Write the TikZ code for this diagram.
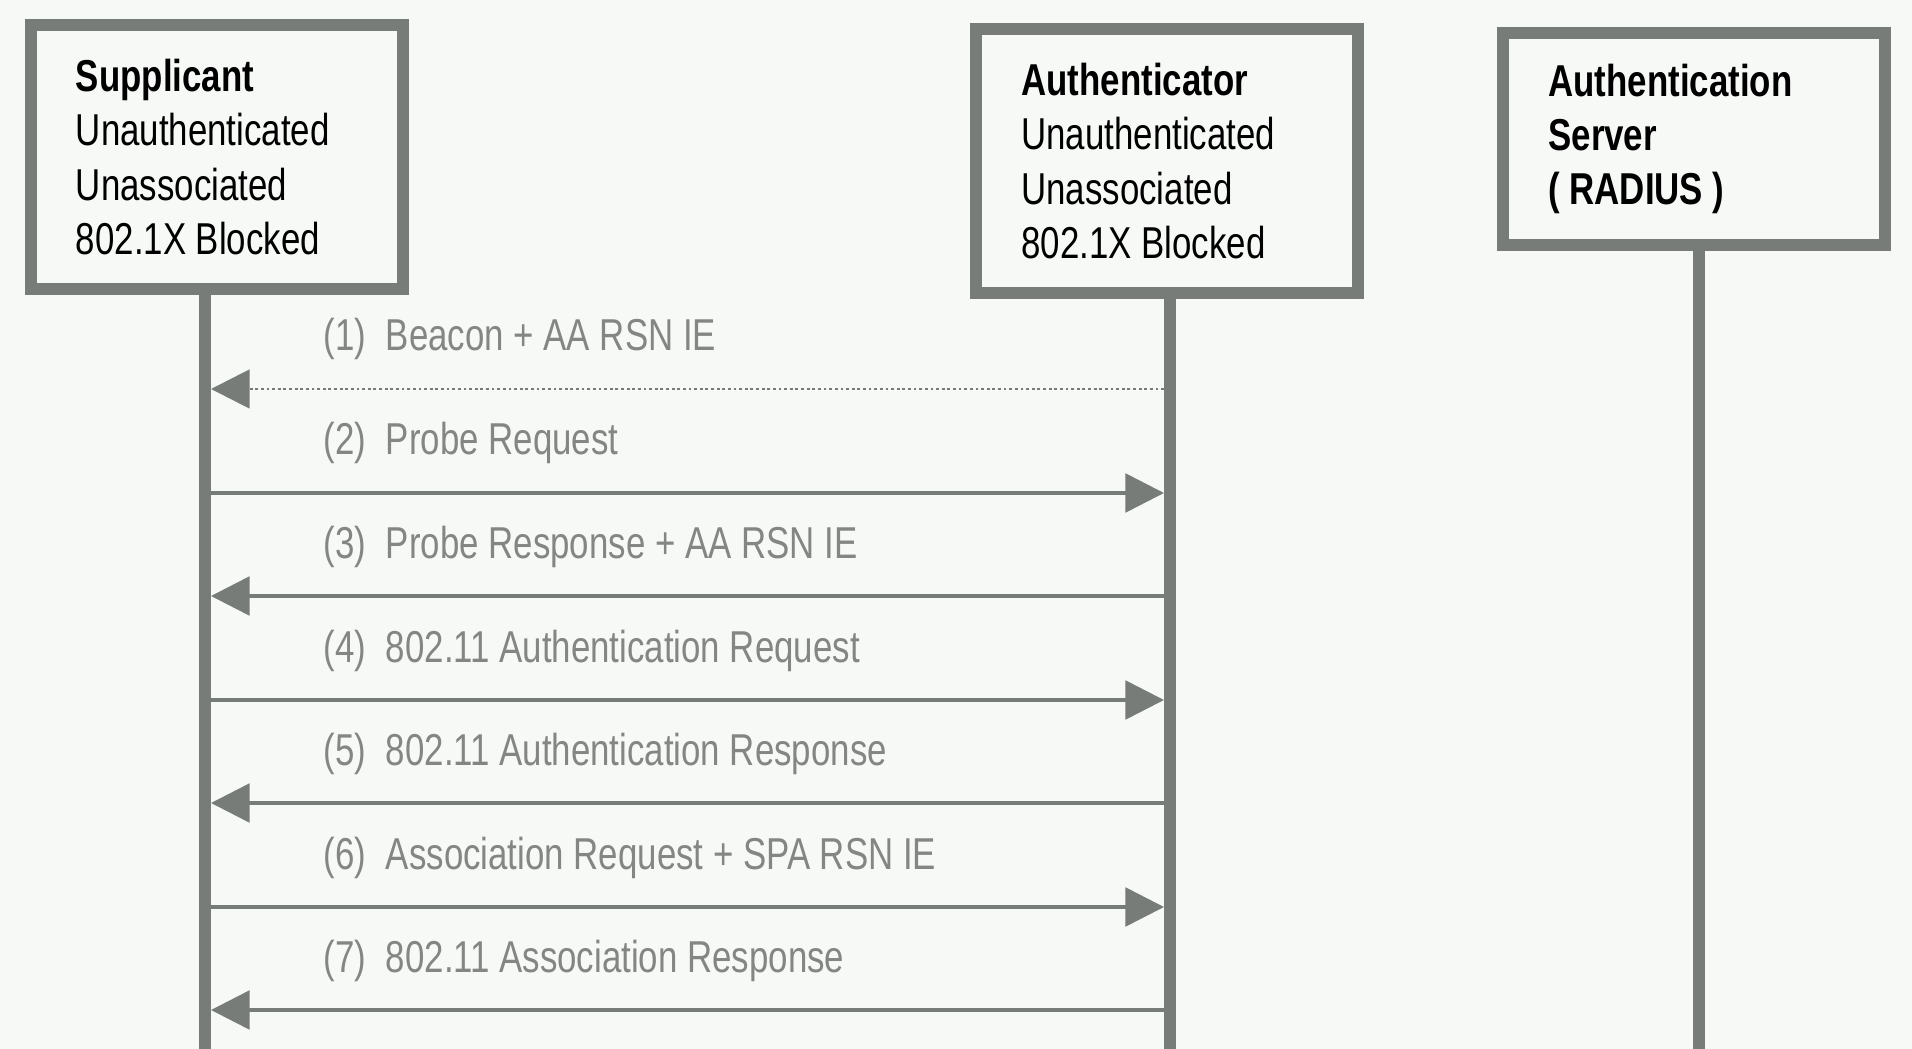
\documentclass[tikz,border=0pt]{standalone}
\usepackage{fontspec}
\setmainfont{Liberation Sans}[FakeStretch=0.78]
\usetikzlibrary{arrows.meta}

\definecolor{framegray}{RGB}{120,124,120}
\definecolor{labelgray}{RGB}{132,134,132}
\definecolor{paper}{RGB}{246,249,246}

\newcommand{\msgtxt}[2]{(#1)\hspace{5.6pt}#2}

\tikzset{
  actor/.style={draw=framegray, line width=3.4pt, fill=paper, align=flush left,
    inner xsep=0.45cm, inner ysep=0pt, text=black},
  life/.style={draw=framegray, line width=3.4pt},
  msg/.style={draw=framegray, line width=1pt, -{Triangle[length=11pt,width=11pt]},
    shorten >=1.7pt, shorten <=1.7pt},
  beacon/.style={msg, line width=0.8pt, dash pattern=on 0.8pt off 0.8pt},
  lbl/.style={anchor=base west, inner sep=0pt, text=labelgray}
}

\begin{document}
\begin{tikzpicture}[x=0.01cm, y=-0.01cm, font=\fontsize{12.7}{15.4}\selectfont]

\fill[paper] (0,0) rectangle (1912,1049);
\useasboundingbox (0,0) rectangle (1912,1049);

\node at (217,157) [actor, minimum width=3.72cm, minimum height=2.63cm, text width=2.82cm] (sup)
  {\textbf{Supplicant}\\Unauthenticated\\Unassociated\\802.1X Blocked};
\node at (1167,161) [actor, minimum width=3.81cm, minimum height=2.63cm, text width=2.91cm] (auth)
  {\textbf{Authenticator}\\Unauthenticated\\Unassociated\\802.1X Blocked};
\node at (1694,139) [actor, minimum width=3.81cm, minimum height=2.12cm, text width=2.91cm] (srv)
  {\textbf{Authentication}\\\textbf{Server}\\\textbf{( RADIUS )}};

\coordinate (supEnd) at (205,1049);
\coordinate (authEnd) at (1170,1049);
\coordinate (srvEnd) at (1699,1049);

\draw[life] (sup.south -| supEnd) -- (supEnd);
\draw[life] (auth.south -| authEnd) -- (authEnd);
\draw[life] (srv.south -| srvEnd) -- (srvEnd);

\path (205,389) coordinate (s1) (1170,389) coordinate (a1);
\path (205,493) coordinate (s2) (1170,493) coordinate (a2);
\path (205,596) coordinate (s3) (1170,596) coordinate (a3);
\path (205,700) coordinate (s4) (1170,700) coordinate (a4);
\path (205,803) coordinate (s5) (1170,803) coordinate (a5);
\path (205,907) coordinate (s6) (1170,907) coordinate (a6);
\path (205,1010) coordinate (s7) (1170,1010) coordinate (a7);

\draw[beacon] (a1) -- (s1);
\draw[msg] (s2) -- (a2);
\draw[msg] (a3) -- (s3);
\draw[msg] (s4) -- (a4);
\draw[msg] (a5) -- (s5);
\draw[msg] (s6) -- (a6);
\draw[msg] (a7) -- (s7);

\node at (323,351) [lbl] (m1) {\msgtxt{1}{Beacon + AA RSN IE}};
\node at (323,455) [lbl] (m2) {\msgtxt{2}{Probe Request}};
\node at (323,558) [lbl] (m3) {\msgtxt{3}{Probe Response + AA RSN IE}};
\node at (323,662) [lbl] (m4) {\msgtxt{4}{802.11 Authentication Request}};
\node at (323,765) [lbl] (m5) {\msgtxt{5}{802.11 Authentication Response}};
\node at (323,869) [lbl] (m6) {\msgtxt{6}{Association Request + SPA RSN IE}};
\node at (323,972) [lbl] (m7) {\msgtxt{7}{802.11 Association Response}};

\end{tikzpicture}
\end{document}
